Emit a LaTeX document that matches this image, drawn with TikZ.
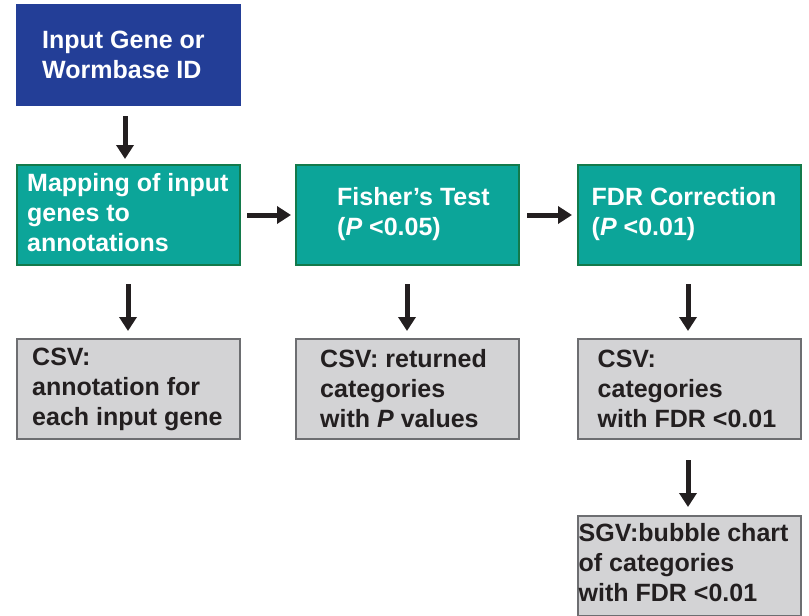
\documentclass[tikz,border=0pt]{standalone}
\usepackage{fontspec}
\setmainfont{Liberation Sans}
\usetikzlibrary{arrows.meta}
\definecolor{bluebox}{HTML}{233E97}
\definecolor{tealfill}{HTML}{0CA599}
\definecolor{tealline}{HTML}{137A4B}
\definecolor{grayfill}{HTML}{D3D3D5}
\definecolor{grayline}{HTML}{6D6E71}
\definecolor{ink}{HTML}{231F20}
\tikzset{
  x=1pt, y=-1pt,
  boxbase/.style={draw, line width=2pt, minimum width=223pt, minimum height=100pt, inner sep=0pt},
  bluestyle/.style={boxbase, fill=bluebox, draw=bluebox},
  tealstyle/.style={boxbase, fill=tealfill, draw=tealline},
  graystyle/.style={boxbase, fill=grayfill, draw=grayline},
  txt/.style={anchor=west, align=left, inner sep=0pt, font=\fontsize{25}{30}\selectfont\bfseries},
  wtxt/.style={txt, text=white},
  ktxt/.style={txt, text=ink},
  flow/.style={draw=ink, line width=5pt, -{Triangle[width=17pt,length=14pt]}},
}
\begin{document}
\begin{tikzpicture}
\useasboundingbox (0,0) rectangle (809,616);
% boxes
\node[bluestyle] (input) at (128.5,54.5) {};
\node[tealstyle] (map) at (128.5,215) {};
\node[tealstyle] (fisher) at (407.5,215) {};
\node[tealstyle] (fdr) at (689,215) {};
\node[graystyle] (csv1) at (128.5,389) {};
\node[graystyle] (csv2) at (407.5,389) {};
\node[graystyle] (csv3) at (689,389) {};
\node[graystyle] (sgv) at (689,565.5) {};
% texts
\node[wtxt] (tinput) at ([xshift=26pt]input.west) {Input Gene or\\Wormbase ID};
\node[wtxt] (tmap) at ([xshift=11pt,yshift=2pt]map.west) {Mapping of input\\genes to\\annotations};
\node[wtxt] (tfisher) at ([xshift=42pt,yshift=1pt]fisher.west) {Fisher’s Test\\(\textit{P} <0.05)};
\node[wtxt] (tfdr) at ([xshift=15pt,yshift=1pt]fdr.west) {FDR Correction\\(\textit{P} <0.01)};
\node[ktxt] (tcsv1) at ([xshift=16pt]csv1.west) {CSV:\\annotation for\\each input gene};
\node[ktxt] (tcsv2) at ([xshift=25pt]csv2.west) {CSV: returned\\categories\\with \textit{P} values};
\node[ktxt] (tcsv3) at ([xshift=21pt]csv3.west) {CSV:\\categories\\with FDR <0.01};
\node[ktxt] (tsgv) at ([xshift=2pt,yshift=3pt]sgv.west) {SGV:bubble chart\\of categories\\with FDR <0.01};
% arrow anchor coordinates
\coordinate (a1s) at (125,116); \coordinate (a1e) at (125,159);
\coordinate (a2s) at (128,284); \coordinate (a2e) at (128,331);
\coordinate (a3s) at (407,284); \coordinate (a3e) at (407,331);
\coordinate (a4s) at (688,284); \coordinate (a4e) at (688,331);
\coordinate (a5s) at (688,460); \coordinate (a5e) at (688,507);
\coordinate (h1s) at (247,215); \coordinate (h1e) at (291,215);
\coordinate (h2s) at (527,215); \coordinate (h2e) at (572,215);
\draw[flow] (a1s) -- (a1e);
\draw[flow] (a2s) -- (a2e);
\draw[flow] (a3s) -- (a3e);
\draw[flow] (a4s) -- (a4e);
\draw[flow] (a5s) -- (a5e);
\draw[flow] (h1s) -- (h1e);
\draw[flow] (h2s) -- (h2e);
\end{tikzpicture}
\end{document}
